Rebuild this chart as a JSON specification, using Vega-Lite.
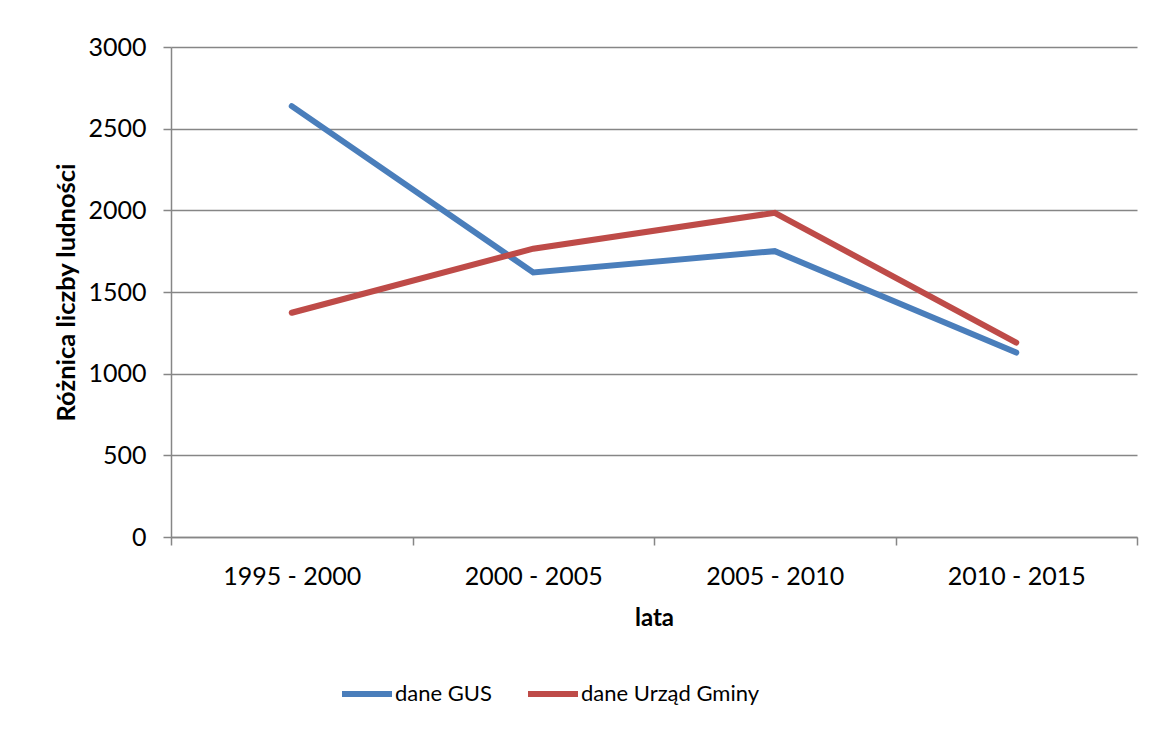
{
  "$schema": "https://vega.github.io/schema/vega-lite/v6.json",
  "autosize": {"type": "none"},
  "width": 966,
  "height": 490,
  "padding": {"left": 171, "top": 47, "right": 17, "bottom": 192},
  "background": "white",
  "config": {
    "font": "Lato",
    "view": {"stroke": null},
    "axis": {
      "labelFont": "Lato",
      "titleFont": "Lato",
      "labelColor": "#000000",
      "titleColor": "#000000",
      "domainColor": "#868686",
      "tickColor": "#868686",
      "gridColor": "#868686",
      "labelFontSize": 25,
      "titleFontSize": 24,
      "titleFontWeight": "bold"
    }
  },
  "data": {
    "values": [
      {"okres": "1995 - 2000", "seria": "dane GUS", "wartosc": 2638},
      {"okres": "2000 - 2005", "seria": "dane GUS", "wartosc": 1620},
      {"okres": "2005 - 2010", "seria": "dane GUS", "wartosc": 1750},
      {"okres": "2010 - 2015", "seria": "dane GUS", "wartosc": 1129},
      {"okres": "1995 - 2000", "seria": "dane Urząd Gminy", "wartosc": 1373},
      {"okres": "2000 - 2005", "seria": "dane Urząd Gminy", "wartosc": 1765},
      {"okres": "2005 - 2010", "seria": "dane Urząd Gminy", "wartosc": 1985},
      {"okres": "2010 - 2015", "seria": "dane Urząd Gminy", "wartosc": 1190}
    ]
  },
  "mark": {"type": "line", "strokeWidth": 6, "strokeCap": "round", "strokeJoin": "miter"},
  "encoding": {
    "x": {
      "field": "okres",
      "type": "ordinal",
      "title": "lata",
      "scale": {"type": "band", "paddingInner": 0, "paddingOuter": 0},
      "axis": {
        "labelAngle": 0,
        "tickBand": "extent",
        "tickSize": 8,
        "labelPadding": 19,
        "titlePadding": 17,
        "domainWidth": 1.5,
        "tickWidth": 1.5,
        "grid": false
      }
    },
    "y": {
      "field": "wartosc",
      "type": "quantitative",
      "title": "Różnica liczby ludności",
      "scale": {"domain": [0, 3000], "nice": false},
      "axis": {
        "values": [0, 500, 1000, 1500, 2000, 2500, 3000],
        "format": "d",
        "tickSize": 8,
        "labelPadding": 17,
        "titlePadding": 8,
        "titleFontSize": 25.5,
        "grid": true,
        "gridWidth": 1.5,
        "domainWidth": 1.5,
        "tickWidth": 1.5
      }
    },
    "color": {
      "field": "seria",
      "type": "nominal",
      "title": null,
      "scale": {"domain": ["dane GUS", "dane Urząd Gminy"], "range": ["#4a7ebb", "#be4b48"]},
      "legend": {
        "orient": "none",
        "legendX": 168,
        "legendY": 619,
        "direction": "horizontal",
        "symbolType": "stroke",
        "symbolSize": 2500,
        "symbolStrokeWidth": 6,
        "labelFontSize": 22,
        "labelFont": "Lato",
        "labelColor": "#000000",
        "labelLimit": 400,
        "labelOffset": 0,
        "columnPadding": 24
      }
    }
  }
}
